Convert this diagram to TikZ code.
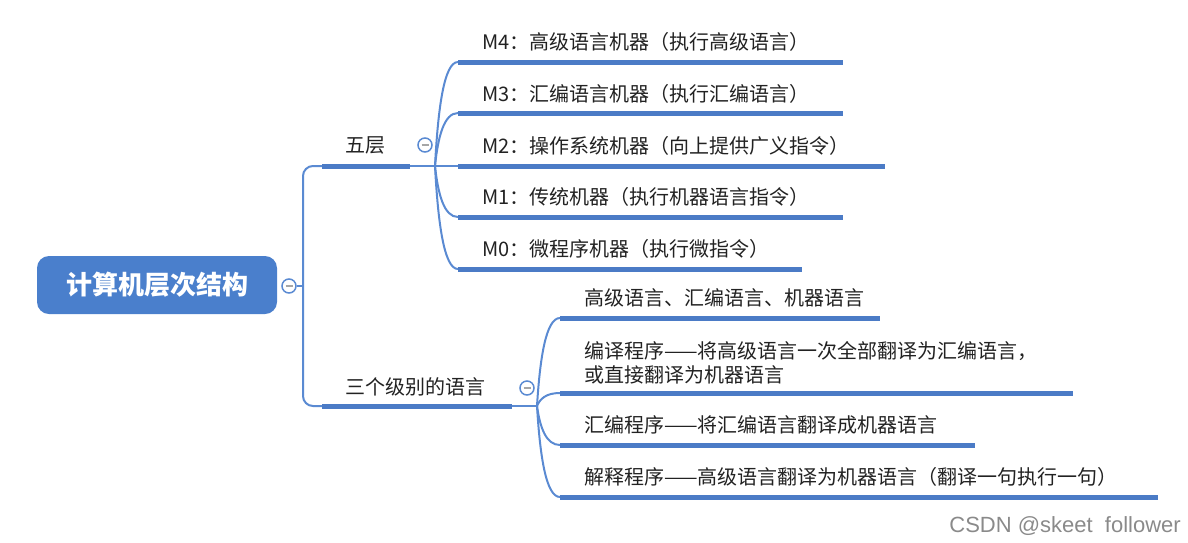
\documentclass[tikz,border=0pt]{standalone}
\usepackage{fontspec}
\setmainfont{Noto Sans CJK SC}
\newfontfamily\wmfont{Liberation Sans}
\definecolor{rootblue}{HTML}{4A7FCC}
\definecolor{linkblue}{HTML}{5A8AD2}
\definecolor{ulblue}{HTML}{4B7BC6}
\definecolor{txt}{HTML}{222222}
\definecolor{wmgray}{HTML}{8A8A8A}
\begin{document}
\begin{tikzpicture}[x=1pt,y=-1pt,
 link/.style={draw=linkblue, line width=2pt},
 uline/.style={draw=ulblue, line width=5pt},
 leaf/.style={anchor=west, inner sep=0pt, text=txt, font=\fontsize{20}{24}\selectfont},
 branch/.style={anchor=west, inner sep=0pt, text=txt, font=\fontsize{20}{24}\selectfont},
 fold/.style={circle, draw=linkblue, line width=1.5pt, fill=white, minimum size=14pt, inner sep=0pt,
   path picture={\draw[line width=1.6pt, gray!70] ([xshift=-3.5pt]path picture bounding box.center) -- ([xshift=3.5pt]path picture bounding box.center);}}]
\useasboundingbox (0,0) rectangle (1188,542);

% root
\node[fill=rootblue, rounded corners=12pt, minimum width=240pt, minimum height=58pt, text=white,
  font=\fontsize{26}{30}\selectfont\bfseries] (root) at (157,285) {计算机层次结构};
\node[fold] (f0) at (289,286) {};
\coordinate (t) at (303,286);
\draw[link] (f0.east) -- (t);

% level 1 anchors
\coordinate (b1s) at (322,166);
\coordinate (b1e) at (410,166);
\coordinate (b2s) at (322,406);
\coordinate (b2e) at (512,406);
\draw[link, rounded corners=10pt] (b1s) -| (t) |- (b2s);
\draw[uline] (b1s) -- (b1e);
\draw[uline] (b2s) -- (b2e);
\node[branch] (n1) at (345,145) {五层};
\node[branch] (n2) at (345,387) {三个级别的语言};
\node[fold] (f1) at (425,145) {};
\node[fold] (f2) at (527,388) {};

% group 1
\coordinate (c1) at (435,166);
\draw[link] (b1e) -- (c1);
\foreach \n/\y/\e in {m4/62/843, m3/113/843, m2/166/885, m1/217/843, m0/269/802}{
  \coordinate (\n s) at (458,\y);
  \coordinate (\n e) at (\e,\y);
  \draw[link] (c1) .. controls (438,{166+(\y-166)*0.55}) and (444,\y) .. (\n s);
  \draw[uline] (\n s) -- (\n e);
}
\node[leaf] (t4) at (482,42) {M4：高级语言机器（执行高级语言）};
\node[leaf] (t3) at (482,94) {M3：汇编语言机器（执行汇编语言）};
\node[leaf] (t2) at (482,146) {M2：操作系统机器（向上提供广义指令）};
\node[leaf] (t1) at (482,197) {M1：传统机器（执行机器语言指令）};
\node[leaf] (t0) at (482,249) {M0：微程序机器（执行微指令）};

% group 2
\coordinate (c2) at (537,406);
\draw[link] (b2e) -- (c2);
\foreach \n/\y/\e in {la/318/880, lb/393/1073, lc/445/975, ld/497/1158}{
  \coordinate (\n s) at (560,\y);
  \coordinate (\n e) at (\e,\y);
  \draw[link] (c2) .. controls (540,{406+(\y-406)*0.55}) and (546,\y) .. (\n s);
  \draw[uline] (\n s) -- (\n e);
}
\node[leaf] (ta) at (584,298) {高级语言、汇编语言、机器语言};
\node[leaf, align=left] (tb) at (584,363) {编译程序——将高级语言一次全部翻译为汇编语言，\\或直接翻译为机器语言};
\node[leaf] (tc) at (584,425) {汇编程序——将汇编语言翻译成机器语言};
\node[leaf] (td) at (584,477) {解释程序——高级语言翻译为机器语言（翻译一句执行一句）};

% watermark
\node[anchor=east, inner sep=0pt, text=wmgray, font=\wmfont\fontsize{22}{26}\selectfont] (wm) at (1181,526) {CSDN @skeet\ \ follower};
\end{tikzpicture}
\end{document}
